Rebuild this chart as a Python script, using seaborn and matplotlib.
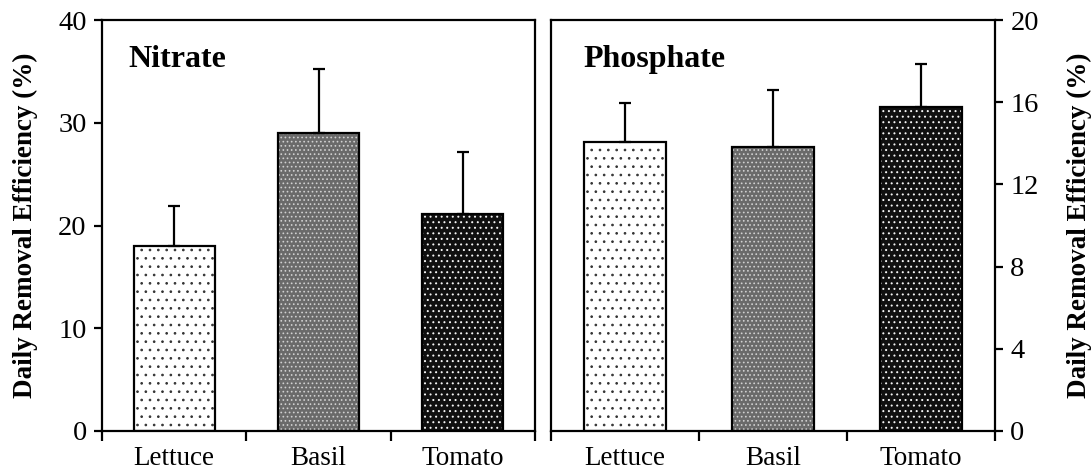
import numpy as np
import pandas as pd
import matplotlib
matplotlib.use("Agg")
import matplotlib.pyplot as plt
import seaborn as sns

# datos
cultivos = ["Lettuce", "Basil", "Tomato"]
nitrato = [18.0, 29.0, 21.1]
nitrato_err = [3.9, 6.2, 6.1]
fosfato = [14.05, 13.8, 15.75]
fosfato_err = [1.9, 2.8, 2.1]

# relleno de cada barra: color de fondo, trama, color de la trama
estilos = [
    ("#ffffff", "..", "#333333"),
    ("#6a6a6a", "....", "#d0d0d0"),
    ("#101010", "...", "#f4f4f4"),
]

sns.set_style("ticks")
plt.rcParams["font.family"] = ["Liberation Serif", "DejaVu Serif"]
plt.rcParams["hatch.linewidth"] = 0.7
for clave in ["text.color", "axes.labelcolor", "xtick.color", "ytick.color"]:
    plt.rcParams[clave] = "black"

fig = plt.figure(figsize=(10.92, 4.74), dpi=100)
ax1 = fig.add_axes([102 / 1092, 43 / 474, 433 / 1092, 411 / 474])
ax2 = fig.add_axes([551 / 1092, 43 / 474, 444 / 1092, 411 / 474])


def panel(ax, valores, errores, titulo, ymax, paso, lado):
    df = pd.DataFrame({"cultivo": cultivos, "valor": valores})
    sns.barplot(data=df, x="cultivo", y="valor", ax=ax, width=0.56,
                color="white", errorbar=None, saturation=1)
    for p, (fc, hatch, hc) in zip(ax.patches, estilos):
        p.set_facecolor(fc)
        p.set_hatch(hatch)
        p.set_edgecolor(hc)
        p.set_linewidth(0)
    pos = np.arange(len(cultivos))
    ax.bar(pos, valores, width=0.56, fill=False, edgecolor="black",
           linewidth=1.6, zorder=3)
    ax.errorbar(pos, valores, yerr=[np.zeros(len(errores)), errores],
                fmt="none", ecolor="black", elinewidth=1.6, capsize=4.5,
                capthick=1.6, zorder=2)

    ax.set_xlim(-0.5, 2.5)
    ax.set_ylim(0, ymax)
    ax.set_yticks(np.arange(0, ymax + 0.1, paso))
    ax.set_xticks([-0.5, 0.5, 1.5, 2.5])
    ax.set_xticklabels([])
    ax.set_xticks(pos, minor=True)
    ax.set_xticklabels(cultivos, minor=True, fontsize=19.5)
    ax.tick_params(axis="x", which="major", direction="out", length=7,
                   width=1.6)
    ax.tick_params(axis="x", which="minor", length=0, pad=11)
    ax.set_xlabel("")

    for s in ax.spines.values():
        s.set_visible(True)
        s.set_linewidth(1.6)
        s.set_color("black")

    if lado == "left":
        ax.tick_params(axis="y", direction="out", length=6, width=1.6,
                       labelsize=20.5, left=True, right=False, pad=5)
        ax.set_ylabel("Daily Removal Efficiency (%)", fontsize=19.5,
                      fontweight="bold")
        ax.yaxis.set_label_coords(-0.148, 0.5)
    else:
        ax.yaxis.tick_right()
        ax.yaxis.set_label_position("right")
        ax.tick_params(axis="y", direction="out", length=6, width=1.6,
                       labelsize=20.5, left=False, right=True, pad=5)
        ax.set_ylabel("Daily Removal Efficiency (%)", fontsize=19.5,
                      fontweight="bold", rotation=90)
        ax.yaxis.set_label_coords(1.162, 0.5)

    ax.text(0.062 if lado == "left" else 0.072, 0.885, titulo,
            transform=ax.transAxes, fontsize=23, fontweight="bold",
            ha="left", va="baseline")


panel(ax1, nitrato, nitrato_err, "Nitrate", 40, 10, "left")
panel(ax2, fosfato, fosfato_err, "Phosphate", 20, 4, "right")

fig.savefig("out.png", dpi=100)
